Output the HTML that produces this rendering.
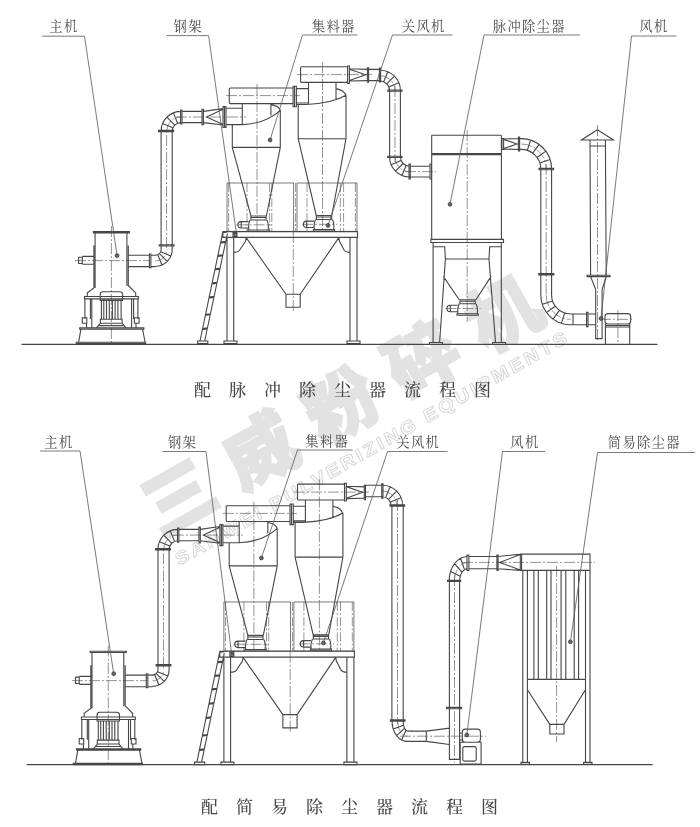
<!DOCTYPE html>
<html lang="zh"><head><meta charset="utf-8"><title>流程图</title>
<style>
html,body{margin:0;padding:0;background:#fff}
body{width:700px;height:827px;overflow:hidden;position:relative}
svg{position:absolute;left:0;top:0;display:block}
.a{fill:none;stroke:#464646;stroke-width:1.1}
.b{fill:none;stroke:#6a6a6a;stroke-width:.7;stroke-dasharray:9 2 2 2}
.c{fill:none;stroke:#666;stroke-width:.7;stroke-dasharray:11 2 2 2}
.l{fill:none;stroke:#585858;stroke-width:.8}
.lab,.ttl,.wmg{filter:grayscale(1)}
.lab text{font-family:"Liberation Serif","Noto Serif CJK SC",serif;font-size:13.3px;fill:#4a4a4a;letter-spacing:1.3px}
.ttl text{font-family:"Liberation Serif","Noto Serif CJK SC",serif;font-size:17px;font-weight:500;fill:#484848;letter-spacing:18px}
.wm{font-family:"Liberation Sans","Noto Sans CJK SC",sans-serif;font-weight:900;font-size:72px;fill:#e2e2e2;stroke:#e2e2e2;stroke-width:2;letter-spacing:21.2px}
.wme{font-family:"Liberation Sans",sans-serif;font-weight:700;font-size:18px;fill:none;stroke:#d6d6d6;stroke-width:.9;letter-spacing:2.5px}
</style></head><body>
<svg width="700" height="827" viewBox="0 0 700 827">
<rect width="700" height="827" fill="#fff"/>
<g class="wmg"><g transform="translate(160.5,537.4) rotate(-29.4)"><text class="wm" x="0" y="0">三威粉碎机</text></g>
<g transform="translate(179,566) rotate(-29.9) skewX(-4) scale(1.15,1)"><text class="wme" x="0" y="0">SANWEI PULVERIZING EQUIPMENTS</text></g></g>
<g><path class="b" d="M228.6 183.0L228.6 231.4M247.0 183.0L247.0 231.4M269.6 183.0L269.6 231.4M271.8 183.0L271.8 231.4M295.6 183.0L295.6 231.4M307.0 183.0L307.0 231.4M340.4 183.0L340.4 231.4M343.6 183.0L343.6 231.4M355.4 183.0L355.4 231.4"/><path class="c" d="M75.0 260.6L150.0 260.6M111.4 226.0L111.4 343.0M155.6 260.8A11.1 11.1 0 0 0 166.7 249.7M166.6 248.0L166.6 131.0M166.7 131.0A14.3 14.0 0 0 1 181.0 117.0M176.0 117.0L246.0 117.0M226.0 95.6L300.0 95.6M257.0 84.0L257.0 232.0M236.5 224.8L271.5 224.8M297.0 74.6L372.0 74.6M322.5 62.0L322.5 232.0M302.0 224.3L337.0 224.3M293.3 232.0L293.3 311.0"/><path class="l" d="M227.0 183.0H293.6V231.4H227.0ZM297.0 183.0H357.0V231.4H297.0Z"/><path class="a" d="M93.3 231.6H129.4V232.9H93.3ZM95.1 232.9L95.1 288.0M126.9 232.9L126.9 286.0M93.9 245.4L93.9 288.0M128.3 245.4L128.3 285.5M93.6 256.4L82.3 256.4M93.6 264.3L82.3 264.3M78.6 257.2H82.3V263.5H78.6ZM128.3 255.2L149.4 255.2M128.3 266.6L149.4 266.6M149.4 254.0H150.9V267.6H149.4ZM93.9 288.0L87.3 292.9L87.3 296.5M128.3 285.5L135.7 292.9L135.7 296.5M84.5 296.5H138.4V298.9H84.5ZM84.9 298.9L84.9 319.0M90.4 298.9L90.4 319.0M91.8 298.9L91.8 327.9M82.3 317.7H86.8V323.2H82.3ZM133.6 298.9L133.6 319.0M137.9 298.9L137.9 319.0M131.6 298.9L131.6 327.9M134.4 317.7H139.1V323.2H134.4ZM86.5 323.2L86.5 327.9M136.0 323.2L136.0 327.9M100.2 300.4V294.5Q100.2 291.8 103 291.8H119.8Q122.6 291.8 122.6 294.5V300.4ZM101.4 300.4H121.1V319.3H101.4ZM103.8 301.0L103.8 319.0M106.5 301.0L106.5 319.0M109.3 301.0L109.3 319.0M112.4 301.0L112.4 319.0M115.1 301.0L115.1 319.0M117.9 301.0L117.9 319.0M100.4 319.3H122.1V323.2H100.4ZM100.4 323.2L96.5 327.9M122.1 323.2L126.0 327.9M98.5 325.6L124.0 325.6M79.7 327.9H143.9V329.2H79.7ZM80.9 329.2L78.6 342.5M142.6 329.2L145.1 342.5M76.3 342.3H145.6V343.6H76.3ZM150.9 255.2L155.6 255.2M150.9 266.6L155.6 266.6M155.6 255.2A5.5 5.5 0 0 0 161.1 249.7M155.6 266.3A16.6 16.6 0 0 0 172.2 249.7M157.7 254.8L162.0 265.0M159.5 253.6L167.3 261.4M160.7 251.8L170.9 256.1M161.1 249.7L161.1 131.0M172.2 249.7L172.2 131.0M159.2 244.8H174.0V246.0H159.2ZM158.6 130.4H173.6V131.6H158.6ZM172.2 131.0A8.8 8.4 0 0 1 181.0 122.6M161.1 131.0A19.9 19.6 0 0 1 181.0 111.4M172.9 127.8L162.6 123.5M174.8 125.1L166.9 117.1M177.6 123.2L173.4 112.9M180.6 110.0H182.0V124.0H180.6ZM182.0 111.4L202.0 111.4M182.0 122.6L202.0 122.6M202.0 109.2H203.4V124.8H202.0ZM203.4 111.4L223.0 108.6M203.4 122.6L223.0 125.0M223.0 109.2L206.6 117.0L223.0 124.6M223.0 106.6H226.0V127.4H223.0ZM224.5 106.6L224.5 127.4M226.0 108.2L242.3 108.2M226.0 124.6L242.3 124.6M230.3 88.0H292.1Q293.1 88.0 293.1 89.0V102.6Q293.1 103.6 292.1 103.6H230.3Q229.3 103.6 229.3 102.6V89.0Q229.3 88.0 230.3 88.0ZM293.1 86.3H294.6V106.7H293.1ZM294.6 86.3H296.4V106.7H294.6ZM296.4 88.6L308.5 88.6M296.4 103.0L308.5 103.0M242.3 103.6L242.3 124.6M232.3 124.6L232.3 147.4M280.3 110.3L280.3 147.4M232.3 147.4L280.3 147.4M232.3 147.4L251.0 216.0M280.3 147.4L266.4 216.0M242.3 124.6Q266 123.5 280.3 110.3M270.9 103.6L270.9 115.5M270.9 104.6Q278.5 105.5 280.3 110.3M250.9 216.0H266.1V220.0H250.9ZM250.9 217.5L266.1 217.5M250.0 220.0Q247.9 225.0 248.9 230.0H268.1Q269.1 225.0 267.0 220.0M247.9 230.0H269.1V231.6H247.9ZM248.5 221.6H241.0Q237.9 221.6 237.9 224.8Q237.9 228.0 241.0 228.0H248.5M241.2 221.6L241.2 228.0M301.6 66.7H346.6Q347.6 66.7 347.6 67.7V81.4Q347.6 82.4 346.6 82.4H301.6Q300.6 82.4 300.6 81.4V67.7Q300.6 66.7 301.6 66.7ZM347.6 66.0H349.4V83.4H347.6ZM308.5 82.4L308.5 104.3M336.0 82.4L336.0 99.5M298.2 104.5L298.2 138.7M346.0 95.3L346.0 138.7M298.2 138.7L346.0 138.7M298.2 138.7L316.3 215.5M346.0 138.7L331.8 215.5M296.6 104.5H306Q332 103.5 345.9 95.3M336 88.6Q343.8 90 345.9 95.3M316.4 215.5H331.6V219.5H316.4ZM316.4 217.0L331.6 217.0M315.5 219.5Q313.4 224.5 314.4 229.5H333.6Q334.6 224.5 332.5 219.5M313.4 229.5H334.6V231.1H313.4ZM314.0 221.1H306.5Q303.4 221.1 303.4 224.3Q303.4 227.5 306.5 227.5H314.0M306.7 221.1L306.7 227.5M349.4 68.8L368.0 69.4M349.4 81.0L368.0 80.6M349.4 69.2L365.6 74.8L349.4 80.6M367.4 67.8H368.6V82.2H367.4ZM222.9 231.6H357.5V237.4H222.9ZM227.0 237.4L227.0 341.0M233.7 237.4L233.7 341.0M350.0 237.4L350.0 341.0M357.0 237.4L357.0 341.0M224.0 341.0H237.0V343.6H224.0ZM347.0 341.0H360.0V343.6H347.0ZM246.0 237.4L286.0 294.2M339.0 237.4L300.2 294.2M286.0 294.2H300.2V307.2H286.0ZM233.7 252.4Q238 252.2 239.4 250.5L245.5 241.2L246.3 237.4M350 252.4Q345.7 252.2 344.3 250.5L339.5 241.2L338.7 237.4M233 232.6H236.9V236.5H233Z M233.6 233.9H236.5 M233.6 235.2H236.5M200.0 341.0L222.7 232.6M204.7 341.0L227.4 233.5M222.7 232.6L227.4 232.0M220.7 242.0L225.6 241.4M220.9 243.0L225.8 242.4M217.9 255.4L222.8 254.8M218.1 256.4L223.0 255.8M215.1 268.7L220.0 268.1M215.3 269.7L220.2 269.1M212.2 282.9L217.1 282.3M212.4 283.9L217.3 283.3M209.2 297.0L214.1 296.4M209.4 298.0L214.3 297.4M205.6 314.3L210.5 313.7M205.8 315.3L210.7 314.7M202.6 328.5L207.5 327.9M202.8 329.5L207.7 328.9M197.6 341.0H207.8V343.6H197.6Z"/></g><g><path class="c" d="M380.0 75.6A15.0 15.0 0 0 1 395.0 90.6M395.0 86.0L395.0 162.0M395.0 157.0A14.6 14.6 0 0 0 409.6 171.6M405.0 171.6L436.0 171.6M467.2 130.0L467.2 322.0M445.6 308.5L480.6 308.5M521.2 144.0A25.0 25.0 0 0 1 546.2 169.0M546.2 164.0L546.2 296.0M546.2 295.0A24.4 24.4 0 0 0 570.6 319.4M597.5 125.0L597.5 341.0M617.9 310.0L617.9 343.0M600.0 319.3L634.0 319.3"/><path class="a" d="M21.5 344.4L657.5 344.4M368.6 69.4L380.0 69.4M368.6 80.6L380.0 80.6M379.4 68.0H380.6V82.0H379.4ZM380.0 81.0A9.6 9.6 0 0 1 389.6 90.6M380.0 70.2A20.4 20.4 0 0 1 400.4 90.6M383.7 81.7L387.8 71.8M386.8 83.8L394.4 76.2M388.9 86.9L398.8 82.8M387.7 90.0H402.0V91.3H387.7ZM389.6 90.6L389.6 157.0M400.4 90.6L400.4 157.0M387.7 156.2H402.0V157.5H387.7ZM400.4 157.0A9.2 9.2 0 0 0 409.6 166.2M389.6 157.0A20.0 20.0 0 0 0 409.6 177.0M401.1 160.5L391.1 164.7M403.1 163.5L395.5 171.1M406.1 165.5L401.9 175.5M409.0 164.0H410.3V179.0H409.0ZM409.6 166.2L430.0 166.2M409.6 177.0L430.0 177.0M430.0 164.0H431.6V179.0H430.0ZM431.7 135.2L501.4 135.2M431.7 135.2L431.7 239.4M501.4 135.2L501.4 239.4M431.7 153.6L501.4 153.6M431.7 154.8L501.4 154.8M430.9 239.4H503.5V242.5H430.9ZM433.1 242.5L433.1 342.5M433.1 246.7L444.7 246.7L445.4 259.0L439.6 342.5M501.3 242.5L501.3 342.5M501.3 246.7L489.7 246.7L489.0 259.0L495.5 342.5M429.4 342.5H442.5V344.4H429.4ZM492.6 342.5H505.6V344.4H492.6ZM445.4 259.0L489.0 259.0M443.3 276.4L459.2 299.7M491.1 276.4L475.9 299.7M460.0 299.7H475.2V303.7H460.0ZM460.0 301.2L475.2 301.2M459.1 303.7Q457.0 308.7 458.0 313.7H477.2Q478.2 308.7 476.1 303.7M457.0 313.7H478.2V315.3H457.0ZM457.6 305.3H450.1Q447.0 305.3 447.0 308.5Q447.0 311.7 450.1 311.7H457.6M450.3 305.3L450.3 311.7M501.9 138.6H503.6V149.4H501.9ZM503.6 139.0L519.5 138.5M503.6 149.0L519.5 149.5M503.6 139.4L517.0 144.0L503.6 148.6M518.4 137.0H519.6V151.0H518.4ZM521.2 149.4A19.6 19.6 0 0 1 540.8 169.0M521.2 138.6A30.4 30.4 0 0 1 551.6 169.0M527.3 150.4L530.6 140.1M532.7 153.1L539.1 144.4M537.1 157.5L545.8 151.1M539.8 162.9L550.1 159.6M519.6 138.6L521.2 138.6M519.6 149.4L521.2 149.4M539.0 168.4H553.6V169.7H539.0ZM540.8 169.0L540.8 295.0M551.6 169.0L551.6 295.0M538.8 273.6H553.8V274.9H538.8ZM551.6 295.0A19.0 19.0 0 0 0 570.6 314.0M540.8 295.0A29.8 29.8 0 0 0 570.6 324.8M552.5 300.9L542.3 304.2M555.2 306.2L546.5 312.5M559.4 310.4L553.1 319.1M564.7 313.1L561.4 323.3M570.6 314.0L587.0 314.0M570.6 324.8L587.0 324.8M586.6 312.4H588.0V326.6H586.6ZM588.0 314.0L595.7 314.0M588.0 324.8L595.7 324.8M573.0 314.0L573.0 324.8M597.4 129.7L581.4 140.0L613.4 140.0L597.4 129.7M590.0 140.0L590.6 275.4M605.4 140.0L606.2 275.4M590.0 146.0L605.4 146.0M587.1 275.2H610.0V276.6H587.1ZM590.6 276.6L595.7 289.5M606.2 276.6L602.1 289.5M595.7 289.5L595.7 338.6L602.1 338.6L602.1 289.5M608.0 313.6H627.7Q630.7 313.6 630.7 316.6V321.0Q630.7 324.0 627.7 324.0H608.0Q605.0 324.0 605.0 321.0V316.6Q605.0 313.6 608.0 313.6ZM605.4 324.0L605.4 343.8M629.7 324.0L629.7 343.8M605.4 327.0L629.7 327.0M605.4 325.5L629.7 325.5"/></g><g><path class="l" d="M42.0 36.2L84.5 36.2M84.5 36.2L117.1 255.6M166.5 35.6L208.6 35.6M208.6 35.6L236.3 232.6M302.5 35.0L357.5 35.0M302.5 35.0L270.1 140.0M392.5 35.0L452.5 35.0M392.5 35.0L328.0 225.4M484.0 35.0L580.0 35.0M484.0 35.0L450.0 204.3M631.5 36.0L676.4 36.0M631.5 36.0L601.0 318.5"/><circle cx="117.1" cy="255.6" r="1.9" fill="#6a6a6a" stroke="#383838" stroke-width=".8"/><circle cx="270.1" cy="140.0" r="1.9" fill="#6a6a6a" stroke="#383838" stroke-width=".8"/><circle cx="328.0" cy="225.4" r="1.9" fill="#6a6a6a" stroke="#383838" stroke-width=".8"/><circle cx="450.0" cy="204.3" r="1.9" fill="#6a6a6a" stroke="#383838" stroke-width=".8"/><circle cx="601.0" cy="318.5" r="1.9" fill="#6a6a6a" stroke="#383838" stroke-width=".8"/></g><g transform="matrix(1 0 0 1.0135 -3.1 416.5)"><path class="b" d="M228.6 183.0L228.6 231.4M247.0 183.0L247.0 231.4M269.6 183.0L269.6 231.4M271.8 183.0L271.8 231.4M295.6 183.0L295.6 231.4M307.0 183.0L307.0 231.4M340.4 183.0L340.4 231.4M343.6 183.0L343.6 231.4M355.4 183.0L355.4 231.4"/><path class="c" d="M75.0 260.6L150.0 260.6M111.4 226.0L111.4 343.0M155.6 260.8A11.1 11.1 0 0 0 166.7 249.7M166.6 248.0L166.6 131.0M166.7 131.0A14.3 14.0 0 0 1 181.0 117.0M176.0 117.0L246.0 117.0M226.0 95.6L300.0 95.6M257.0 84.0L257.0 232.0M236.5 224.8L271.5 224.8M297.0 74.6L372.0 74.6M322.5 62.0L322.5 232.0M302.0 224.3L337.0 224.3M293.3 232.0L293.3 311.0"/><path class="l" d="M227.0 183.0H293.6V231.4H227.0ZM297.0 183.0H357.0V231.4H297.0Z"/><path class="a" d="M93.3 231.6H129.4V232.9H93.3ZM95.1 232.9L95.1 288.0M126.9 232.9L126.9 286.0M93.9 245.4L93.9 288.0M128.3 245.4L128.3 285.5M93.6 256.4L82.3 256.4M93.6 264.3L82.3 264.3M78.6 257.2H82.3V263.5H78.6ZM128.3 255.2L149.4 255.2M128.3 266.6L149.4 266.6M149.4 254.0H150.9V267.6H149.4ZM93.9 288.0L87.3 292.9L87.3 296.5M128.3 285.5L135.7 292.9L135.7 296.5M84.5 296.5H138.4V298.9H84.5ZM84.9 298.9L84.9 319.0M90.4 298.9L90.4 319.0M91.8 298.9L91.8 327.9M82.3 317.7H86.8V323.2H82.3ZM133.6 298.9L133.6 319.0M137.9 298.9L137.9 319.0M131.6 298.9L131.6 327.9M134.4 317.7H139.1V323.2H134.4ZM86.5 323.2L86.5 327.9M136.0 323.2L136.0 327.9M100.2 300.4V294.5Q100.2 291.8 103 291.8H119.8Q122.6 291.8 122.6 294.5V300.4ZM101.4 300.4H121.1V319.3H101.4ZM103.8 301.0L103.8 319.0M106.5 301.0L106.5 319.0M109.3 301.0L109.3 319.0M112.4 301.0L112.4 319.0M115.1 301.0L115.1 319.0M117.9 301.0L117.9 319.0M100.4 319.3H122.1V323.2H100.4ZM100.4 323.2L96.5 327.9M122.1 323.2L126.0 327.9M98.5 325.6L124.0 325.6M79.7 327.9H143.9V329.2H79.7ZM80.9 329.2L78.6 342.5M142.6 329.2L145.1 342.5M76.3 342.3H145.6V343.6H76.3ZM150.9 255.2L155.6 255.2M150.9 266.6L155.6 266.6M155.6 255.2A5.5 5.5 0 0 0 161.1 249.7M155.6 266.3A16.6 16.6 0 0 0 172.2 249.7M157.7 254.8L162.0 265.0M159.5 253.6L167.3 261.4M160.7 251.8L170.9 256.1M161.1 249.7L161.1 131.0M172.2 249.7L172.2 131.0M159.2 244.8H174.0V246.0H159.2ZM158.6 130.4H173.6V131.6H158.6ZM172.2 131.0A8.8 8.4 0 0 1 181.0 122.6M161.1 131.0A19.9 19.6 0 0 1 181.0 111.4M172.9 127.8L162.6 123.5M174.8 125.1L166.9 117.1M177.6 123.2L173.4 112.9M180.6 110.0H182.0V124.0H180.6ZM182.0 111.4L202.0 111.4M182.0 122.6L202.0 122.6M202.0 109.2H203.4V124.8H202.0ZM203.4 111.4L223.0 108.6M203.4 122.6L223.0 125.0M223.0 109.2L206.6 117.0L223.0 124.6M223.0 106.6H226.0V127.4H223.0ZM224.5 106.6L224.5 127.4M226.0 108.2L242.3 108.2M226.0 124.6L242.3 124.6M230.3 88.0H292.1Q293.1 88.0 293.1 89.0V102.6Q293.1 103.6 292.1 103.6H230.3Q229.3 103.6 229.3 102.6V89.0Q229.3 88.0 230.3 88.0ZM293.1 86.3H294.6V106.7H293.1ZM294.6 86.3H296.4V106.7H294.6ZM296.4 88.6L308.5 88.6M296.4 103.0L308.5 103.0M242.3 103.6L242.3 124.6M232.3 124.6L232.3 147.4M280.3 110.3L280.3 147.4M232.3 147.4L280.3 147.4M232.3 147.4L251.0 216.0M280.3 147.4L266.4 216.0M242.3 124.6Q266 123.5 280.3 110.3M270.9 103.6L270.9 115.5M270.9 104.6Q278.5 105.5 280.3 110.3M250.9 216.0H266.1V220.0H250.9ZM250.9 217.5L266.1 217.5M250.0 220.0Q247.9 225.0 248.9 230.0H268.1Q269.1 225.0 267.0 220.0M247.9 230.0H269.1V231.6H247.9ZM248.5 221.6H241.0Q237.9 221.6 237.9 224.8Q237.9 228.0 241.0 228.0H248.5M241.2 221.6L241.2 228.0M301.6 66.7H346.6Q347.6 66.7 347.6 67.7V81.4Q347.6 82.4 346.6 82.4H301.6Q300.6 82.4 300.6 81.4V67.7Q300.6 66.7 301.6 66.7ZM347.6 66.0H349.4V83.4H347.6ZM308.5 82.4L308.5 104.3M336.0 82.4L336.0 99.5M298.2 104.5L298.2 138.7M346.0 95.3L346.0 138.7M298.2 138.7L346.0 138.7M298.2 138.7L316.3 215.5M346.0 138.7L331.8 215.5M296.6 104.5H306Q332 103.5 345.9 95.3M336 88.6Q343.8 90 345.9 95.3M316.4 215.5H331.6V219.5H316.4ZM316.4 217.0L331.6 217.0M315.5 219.5Q313.4 224.5 314.4 229.5H333.6Q334.6 224.5 332.5 219.5M313.4 229.5H334.6V231.1H313.4ZM314.0 221.1H306.5Q303.4 221.1 303.4 224.3Q303.4 227.5 306.5 227.5H314.0M306.7 221.1L306.7 227.5M349.4 68.8L368.0 69.4M349.4 81.0L368.0 80.6M349.4 69.2L365.6 74.8L349.4 80.6M367.4 67.8H368.6V82.2H367.4ZM222.9 231.6H357.5V237.4H222.9ZM227.0 237.4L227.0 341.0M233.7 237.4L233.7 341.0M350.0 237.4L350.0 341.0M357.0 237.4L357.0 341.0M224.0 341.0H237.0V343.6H224.0ZM347.0 341.0H360.0V343.6H347.0ZM246.0 237.4L286.0 294.2M339.0 237.4L300.2 294.2M286.0 294.2H300.2V307.2H286.0ZM233.7 252.4Q238 252.2 239.4 250.5L245.5 241.2L246.3 237.4M350 252.4Q345.7 252.2 344.3 250.5L339.5 241.2L338.7 237.4M233 232.6H236.9V236.5H233Z M233.6 233.9H236.5 M233.6 235.2H236.5M200.0 341.0L222.7 232.6M204.7 341.0L227.4 233.5M222.7 232.6L227.4 232.0M220.7 242.0L225.6 241.4M220.9 243.0L225.8 242.4M217.9 255.4L222.8 254.8M218.1 256.4L223.0 255.8M215.1 268.7L220.0 268.1M215.3 269.7L220.2 269.1M212.2 282.9L217.1 282.3M212.4 283.9L217.3 283.3M209.2 297.0L214.1 296.4M209.4 298.0L214.3 297.4M205.6 314.3L210.5 313.7M205.8 315.3L210.7 314.7M202.6 328.5L207.5 327.9M202.8 329.5L207.7 328.9M197.6 341.0H207.8V343.6H197.6Z"/></g><g><path class="c" d="M382.3 490.9A14.6 14.6 0 0 1 396.9 505.5M397.5 500.0L397.5 724.0M397.6 721.5A9.8 14.8 0 0 0 407.5 736.2M400.0 736.2L486.0 736.2M454.5 575.0L454.5 763.0M454.4 580.8A13.2 18.2 0 0 1 467.6 562.6M462.0 562.4L595.0 562.4M556.6 566.0L556.6 742.0"/><path class="a" d="M26.6 764.6L652.6 764.6M365.5 485.3L382.3 485.3M365.5 496.7L382.3 496.7M381.7 483.8H383.0V498.2H381.7ZM382.3 496.7A8.8 8.8 0 0 1 391.1 505.5M382.3 485.2A20.3 20.3 0 0 1 402.6 505.5M385.7 497.4L390.1 486.7M388.5 499.3L396.7 491.1M390.4 502.1L401.1 497.7M390.0 504.9H404.6V506.1H390.0ZM391.9 505.5L391.9 721.0M403.2 505.5L403.2 721.0M390.4 719.9H405.0V721.1H390.4ZM403.2 721.5A4.3 9.6 0 0 0 407.5 731.1M392.1 721.5A15.4 19.9 0 0 0 407.5 741.4M403.5 725.2L393.3 729.1M404.5 728.3L396.6 735.6M405.9 730.4L401.6 739.9M407.5 731.1L426.3 731.1M407.5 741.4L426.3 741.4M426.3 731.1L426.3 741.4M426.3 731.1L449.4 728.1M426.3 741.4L449.4 744.5M449.4 581.0L449.4 759.4L459.6 759.4L459.6 581.0M446.5 707.4H461.6V708.7H446.5ZM447.5 580.2H460.6V581.4H447.5ZM459.6 580.8A8.0 12.1 0 0 1 467.6 568.7M449.2 580.8A18.4 24.3 0 0 1 467.6 556.5M460.2 576.2L450.6 571.5M461.9 572.2L454.6 563.6M464.5 569.6L460.6 558.3M467.0 555.0H468.9V570.4H467.0ZM468.9 556.5L497.5 556.5M468.9 568.7L497.5 568.7M496.9 555.0H498.1V570.4H496.9ZM498.1 556.5L520.3 554.1M498.1 568.7L520.3 570.4M520.3 554.6L499.6 562.4L520.3 570.0M465.3 729.1H477.4Q480.4 729.1 480.4 732.1V739.3Q480.4 742.3 477.4 742.3H465.3Q462.3 742.3 462.3 739.3V732.1Q462.3 729.1 465.3 729.1ZM459.6 733.0H462.3V740.0H459.6ZM460.2 742.3H481.1V764.0H460.2ZM464.3 746.6H474.7Q476.2 746.6 476.2 748.1V759.6Q476.2 761.1 474.7 761.1H464.3Q462.8 761.1 462.8 759.6V748.1Q462.8 746.6 464.3 746.6ZM520.3 554.1H590.0V570.4H520.3ZM521.6 554.1L521.6 570.4M522.8 570.4L522.8 762.6M527.4 570.4L527.4 762.6M585.5 570.4L585.5 762.6M590.0 570.4L590.0 762.6M521.0 762.4H529.5V764.4H521.0ZM583.6 762.4H592.0V764.4H583.6ZM533.9 570.8L533.9 679.0M538.3 570.8L538.3 679.0M546.7 570.8L546.7 679.0M551.0 570.8L551.0 679.0M561.1 570.8L561.1 679.0M565.8 570.8L565.8 679.0M574.2 570.8L574.2 679.0M578.6 570.8L578.6 679.0M527.4 679.4L585.5 679.4M527.6 690.0L549.8 724.4M585.3 690.0L564.0 724.4M549.8 724.4H564.0V734.0H549.8Z"/></g><g><path class="l" d="M40.0 451.0L80.0 451.0M80.0 451.0L113.7 673.7M162.5 451.5L206.0 451.5M206.0 451.5L231.5 653.0M297.5 450.0L352.5 450.0M297.5 450.0L261.4 558.0M387.5 451.5L447.5 451.5M387.5 451.5L323.4 642.9M502.5 451.5L545.0 451.5M502.5 451.5L466.8 735.0M597.5 452.5L695.0 452.5M597.5 452.5L570.4 641.8"/><circle cx="113.7" cy="673.7" r="1.9" fill="#6a6a6a" stroke="#383838" stroke-width=".8"/><circle cx="261.4" cy="558.0" r="1.9" fill="#6a6a6a" stroke="#383838" stroke-width=".8"/><circle cx="323.4" cy="642.9" r="1.9" fill="#6a6a6a" stroke="#383838" stroke-width=".8"/><circle cx="466.8" cy="735.0" r="1.9" fill="#6a6a6a" stroke="#383838" stroke-width=".8"/><circle cx="570.4" cy="641.8" r="1.9" fill="#6a6a6a" stroke="#383838" stroke-width=".8"/></g><g class="lab"><text x="49.3" y="30.7">主机</text><text x="173.6" y="30.7">钢架</text><text x="311.8" y="30.5">集料器</text><text x="401.8" y="30.5">关风机</text><text x="492.8" y="30.5">脉冲除尘器</text><text x="639.3" y="30.9">风机</text><text x="44.3" y="446.6">主机</text><text x="168.0" y="447.0">钢架</text><text x="305.3" y="446.2">集料器</text><text x="396.3" y="447.0">关风机</text><text x="510.3" y="447.0">风机</text><text x="607.8" y="447.2">简易除尘器</text></g><g class="ttl"><text x="194" y="395.5">配脉冲除尘器流程图</text><text x="201" y="812.5">配简易除尘器流程图</text></g></svg></body></html>
